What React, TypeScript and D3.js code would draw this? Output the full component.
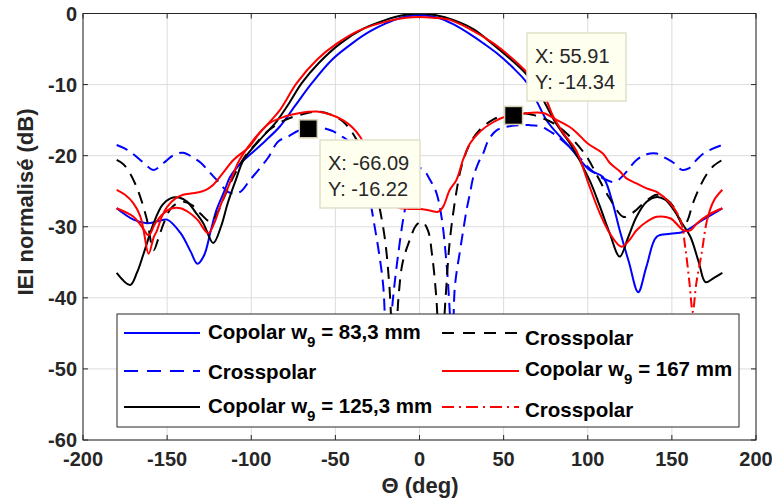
import React from "react";
import * as d3 from "d3";

// ---------- axis ticks ----------
const xTicks = [-200, -150, -100, -50, 0, 50, 100, 150, 200];
const yTicks = [0, -10, -20, -30, -40, -50, -60];

// ---------- series data (theta in deg, level in dB) ----------
// Copolar w9 = 83,3 mm (blue solid)
const blueCoTheta = [-180, -170, -162, -155, -150, -142, -136, -132, -128, -124, -120.6, -116, -112.6, -106, -100, -92, -83, -74, -64, -52, -40, -30, -20, -11, 0, 11, 20, 30, 38, 46, 55, 64, 70, 76, 83.5, 90, 101, 109, 114, 119, 124.5, 130, 135, 141, 149, 157, 168.6, 180];
const blueCoDb = [-27.4, -29, -29.5, -29.2, -29, -30.9, -33.5, -35.2, -34, -30.5, -27.6, -25, -23, -21, -19.7, -18, -15.9, -13, -9.8, -6.5, -4.2, -2.6, -1.4, -0.6, -0.2, -0.6, -1.5, -2.9, -4.2, -5.6, -7.5, -9.8, -12.5, -15.2, -17.3, -19, -22, -23, -26, -30.5, -35, -39.2, -35.5, -31.4, -31, -30.7, -29, -27.4];

// Crosspolar (blue dashed)
const blueXTheta = [-180, -175, -170, -164, -158, -152, -146, -140.5, -135, -130, -124.5, -119, -114, -110, -106, -101, -95, -90, -84, -78, -72, -66, -58, -52, -47, -43, -38, -33, -30, -27, -24, -21.5, -19, -16, -13, -9, -5, -1, 2, 6, 10, 13, 16, 18, 19.5, 21, 24, 26, 28, 30, 32, 35, 38, 41, 46, 55, 65, 72, 79, 88, 96, 101, 105, 110, 116, 121, 129, 135, 141, 146, 151, 156, 160, 165, 170, 180];
const blueXDb = [-18.5, -19, -19.8, -21, -22, -21, -19.9, -19.6, -20.2, -21, -22.4, -23.8, -25.1, -25.3, -25, -23.5, -21.8, -20.3, -18, -17.3, -16.5, -16.22, -16.1, -16.5, -17.2, -17.8, -19.5, -22.5, -25.5, -29.5, -33.8, -38.5, -50, -40.7, -34.5, -28, -24, -21.8, -21.9, -23.3, -25.2, -28.5, -35, -42, -50, -38.5, -33.5, -30.5, -27.6, -25.3, -23, -21, -19.6, -17.8, -16.4, -15.8, -15.7, -15.9, -16.8, -18.5, -20.5, -21.8, -22.6, -23.3, -23.7, -22.8, -20.6, -19.8, -19.7, -20.3, -21, -22, -21.8, -20.5, -19.5, -18.5];

// Copolar w9 = 125,3 mm (black solid)
const blackCoTheta = [-180, -172, -168, -164, -158, -153, -148, -143, -138, -133, -128.5, -122.6, -118, -114, -109, -104.6, -95, -85, -78, -70, -60, -47, -33, -20, -10, 0, 10, 20, 32, 43, 55, 63, 69, 75, 80, 85, 90, 101, 107, 113, 119, 124, 129, 135, 141, 146, 151, 156, 161, 166, 170, 175, 180];
const blackCoDb = [-36.5, -38.2, -36.5, -33.8, -29.5, -27, -26, -25.9, -26.5, -28, -29.5, -32.3, -30, -26.7, -23.3, -20.6, -17.8, -15.2, -12.8, -9.8, -7, -4.2, -2.1, -0.9, -0.25, 0, -0.25, -0.9, -2.2, -4.2, -6.6, -8.4, -10.2, -12.8, -15, -16.8, -18.5, -23.4, -27, -30.9, -34.2, -31.5, -28.6, -26.5, -25.8, -26.2, -27.6, -29.5, -31.4, -35, -37.8, -37.2, -36.5];

// Crosspolar (black dashed)
const blackXTheta = [-180, -176, -172, -168, -165, -162, -158, -155, -152, -148, -144, -140, -135, -130, -124, -120, -116, -110, -104, -98, -90, -80, -70, -60, -52, -45, -38, -32, -26, -21, -18, -15, -12.5, -10, -6, -2, 1.5, 5, 7.5, 10, 12.5, 15.5, 18, 22, 25, 30, 36, 44, 52, 60, 68, 74, 80, 88, 99, 106, 113, 121, 125, 129, 135, 141, 146, 151, 154.5, 157, 159.5, 162.5, 167, 171, 175, 180];
const blackXDb = [-20.6, -21.2, -22.5, -24.5, -26.5, -29, -33.3, -31.5, -29.5, -27.5, -26.7, -26.5, -27, -28.2, -29.3, -28, -25.8, -22.7, -20.2, -18.5, -16.5, -15, -14.2, -13.8, -14.3, -15.3, -17.5, -20.5, -25, -31, -38, -50, -40, -35, -32, -29.8, -29.3, -30.5, -34, -40, -50, -40, -32, -25, -21.5, -18.3, -16.3, -14.9, -14.2, -14, -14.3, -14.8, -15.5, -17, -20, -23, -26, -28.6, -28.3, -27.6, -26.3, -25.5, -26, -27.2, -29, -30, -29, -26.7, -24.2, -22.5, -21.4, -20.6];

// Copolar w9 = 167 mm (red solid)
const redCoTheta = [-180, -170, -165, -161, -157, -152, -147, -142, -137, -132, -125.6, -122, -118.6, -113, -107, -97, -90, -83, -73, -61, -49, -35, -15.6, -8, 0, 8, 18, 30, 44, 55, 64, 71, 76, 79.5, 86, 93, 101, 107, 113, 120, 125, 129, 135, 141, 149, 157, 161, 165, 172, 180];
const redCoDb = [-27.4, -28.6, -30, -31.2, -29.5, -28.1, -27.4, -27.4, -28, -29, -30.9, -29.5, -27.2, -24, -20.6, -17.3, -15.5, -13.6, -9.8, -6.5, -4.2, -2.3, -0.9, -0.6, -0.5, -0.6, -0.9, -2.2, -4.2, -6.3, -8.3, -10, -12.5, -14.5, -17, -19.2, -24.3, -28, -30.9, -32.8, -31.8, -30.5, -29.3, -28.6, -28.8, -30.5, -30.5, -29.5, -28.3, -27.4];

// Crosspolar (red dash-dot)
const redXTheta = [-180, -175, -170, -166, -164, -161, -158, -156, -153, -150, -145, -140.5, -135, -130.5, -126, -122.6, -117, -110.6, -101, -95, -89, -80, -71, -61, -53, -45.5, -40, -35.4, -30, -25, -19, -13.4, -6, 0, 6, 11, 14, 18, 22, 26, 30, 36, 43.7, 50, 56, 65, 73.5, 81.7, 89.5, 93.6, 100, 109, 113, 119, 123, 129, 135, 141, 149, 155, 158, 160.5, 162.4, 164.5, 167.7, 171, 175, 180];
const redXDb = [-24.8, -25.5, -26.7, -28.5, -30.5, -33.8, -31.5, -30.5, -28.5, -27.2, -26, -25.5, -25.3, -25.1, -24.7, -24.1, -22.5, -20.6, -18.7, -16.8, -15.4, -14.5, -14, -13.8, -14.2, -15, -16, -17.3, -19.8, -22.5, -25.5, -27.2, -27.5, -27.5, -27.7, -27.9, -27.2, -24.8, -23.4, -20.5, -18.3, -16.6, -15.3, -14.6, -14.3, -14, -14, -15, -16, -16.8, -18.3, -19.7, -21, -22.2, -23.2, -23.9, -24.6, -25.1, -26.7, -29, -33, -38, -42, -38, -33.7, -29, -26.3, -24.8];

const legendLabels = [
  ["Copolar w", "9", " = 83,3 mm"],
  ["Crosspolar", "", ""],
  ["Copolar w", "9", " = 125,3 mm"],
  ["Crosspolar", "", ""],
  ["Copolar w", "9", " = 167 mm"],
  ["Crosspolar", "", ""],
];

const tipX = [-66.09, 55.91];
const tipY = [-16.22, -14.34];

const FONT = "'Liberation Sans', Arial, Helvetica, sans-serif";

export default function App() {
  const W = 772, H = 499;
  const x = d3.scaleLinear().domain([-200, 200]).range([83, 756]);
  const y = d3.scaleLinear().domain([-60, 0]).range([440, 13.5]);

  const mk = (th: number[], db: number[]) => {
    const pts: [number, number][] = th.map((t, i) => [x(t), y(db[i])]);
    return d3.line().curve(d3.curveCatmullRom.alpha(0.5))(pts) || "";
  };

  const series = [
    { d: mk(blueCoTheta, blueCoDb), color: "#0000ff", dash: undefined as string | undefined },
    { d: mk(blueXTheta, blueXDb), color: "#0000ff", dash: "12,7" },
    { d: mk(blackCoTheta, blackCoDb), color: "#000000", dash: undefined },
    { d: mk(blackXTheta, blackXDb), color: "#000000", dash: "12,8" },
    { d: mk(redCoTheta, redCoDb), color: "#ff0000", dash: undefined },
  ];
  const redX = mk(redXTheta, redXDb);
  const dipL = x(154), dipR = x(171);

  const legendItems = [
    { color: "#0000ff", dash: undefined as string | undefined },
    { color: "#0000ff", dash: "14,9" },
    { color: "#000000", dash: undefined },
    { color: "#000000", dash: "12,9" },
    { color: "#ff0000", dash: undefined },
    { color: "#ff0000", dash: "12,5,2,5" },
  ];
  // legend layout
  const col1 = { lx0: 124, lx1: 200, tx: 208 };
  const col2 = { lx0: 442, lx1: 519, tx: 525 };
  const lineYs = [333, 371, 407, 333, 371, 407];
  const textYs = [339, 379, 413, 345, 376, 417];

  const tipBoxes = [
    { x: 320, y: 140, w: 100, h: 68 },
    { x: 527, y: 33, w: 99, h: 68 },
  ];

  return (
    <svg width={W} height={H} style={{ position: "absolute", left: 0, top: 0, background: "#fff" }}>
      <defs>
        <clipPath id="plotclip">
          <rect x={83} y={13.5} width={673} height={426.5} />
        </clipPath>
        <clipPath id="outdip">
          <rect x={0} y={0} width={dipL} height={H} />
          <rect x={dipR} y={0} width={W - dipR} height={H} />
        </clipPath>
        <clipPath id="indip">
          <rect x={dipL} y={0} width={dipR - dipL} height={H} />
        </clipPath>
      </defs>
      <rect x={0} y={0} width={W} height={H} fill="#fff" />
      {/* grid */}
      {xTicks.map((t) => (
        <line key={"gx" + t} x1={x(t)} x2={x(t)} y1={y(-60)} y2={y(0)} stroke="#dcdcdc" strokeWidth={1} />
      ))}
      {yTicks.map((t) => (
        <line key={"gy" + t} x1={x(-200)} x2={x(200)} y1={y(t)} y2={y(t)} stroke="#dcdcdc" strokeWidth={1} />
      ))}
      {/* tick marks */}
      {xTicks.map((t) => (
        <g key={"tx" + t}>
          <line x1={x(t)} x2={x(t)} y1={y(-60)} y2={y(-60) - 5} stroke="#262626" />
          <line x1={x(t)} x2={x(t)} y1={y(0)} y2={y(0) + 5} stroke="#262626" />
        </g>
      ))}
      {yTicks.map((t) => (
        <g key={"ty" + t}>
          <line x1={x(-200)} x2={x(-200) + 5} y1={y(t)} y2={y(t)} stroke="#262626" />
          <line x1={x(200)} x2={x(200) - 5} y1={y(t)} y2={y(t)} stroke="#262626" />
        </g>
      ))}
      {/* curves */}
      <g clipPath="url(#plotclip)" fill="none" strokeWidth={2} strokeLinejoin="round">
        {series.map((s, i) => (
          <path key={"s" + i} d={s.d} stroke={s.color} strokeDasharray={s.dash} />
        ))}
        <path d={redX} stroke="#ff0000" clipPath="url(#outdip)" />
        <path d={redX} stroke="#ff0000" strokeDasharray="10,4,2,4" clipPath="url(#indip)" />
      </g>
      {/* axes box */}
      <rect x={x(-200)} y={y(0)} width={x(200) - x(-200)} height={y(-60) - y(0)} fill="none" stroke="#262626" strokeWidth={1} />
      {/* tick labels */}
      {xTicks.map((t) => (
        <text key={"lx" + t} x={x(t)} y={466} textAnchor="middle" fontFamily={FONT} fontWeight="bold" fontSize={20} fill="#262626">
          {t}
        </text>
      ))}
      {yTicks.map((t) => (
        <text key={"ly" + t} x={77} y={y(t) + 7} textAnchor="end" fontFamily={FONT} fontWeight="bold" fontSize={20} fill="#262626">
          {t}
        </text>
      ))}
      {/* axis labels */}
      <text x={420} y={493} textAnchor="middle" fontFamily={FONT} fontWeight="bold" fontSize={22} fill="#262626">
        Θ (deg)
      </text>
      <text transform="translate(33,202) rotate(-90)" textAnchor="middle" fontFamily={FONT} fontWeight="bold" fontSize={22} fill="#262626">
        IEI normalisé (dB)
      </text>
      {/* legend */}
      <rect x={117} y={314} width={622} height={113} fill="#fff" stroke="#262626" strokeWidth={1} />
      {legendItems.map((it, i) => {
        const c = i < 3 ? col1 : col2;
        const lab = legendLabels[i];
        return (
          <g key={"lg" + i}>
            <line x1={c.lx0} x2={c.lx1} y1={lineYs[i]} y2={lineYs[i]} stroke={it.color} strokeWidth={2} strokeDasharray={it.dash} />
            <text x={c.tx} y={textYs[i]} fontFamily={FONT} fontWeight="bold" fontSize={20.5} fill="#000">
              {lab[0]}
              {lab[1] ? (
                <>
                  <tspan dy={8} fontSize={15}>{lab[1]}</tspan>
                  <tspan dy={-8}>{lab[2]}</tspan>
                </>
              ) : null}
            </text>
          </g>
        );
      })}
      {/* data tips */}
      {tipX.map((tx, i) => (
        <rect key={"mk" + i} x={x(tx) - 9} y={y(tipY[i]) - 9} width={18} height={18} fill="#000" stroke="#d9d4b4" strokeWidth={1.5} />
      ))}
      {tipBoxes.map((b, i) => (
        <g key={"tb" + i}>
          <rect x={b.x} y={b.y} width={b.w} height={b.h} fill="#fffff0" stroke="#e2dfc8" strokeWidth={1.5} />
          <text x={b.x + 8} y={b.y + 30} fontFamily={FONT} fontSize={20} fill="#262626">
            {"X: " + tipX[i].toFixed(2)}
          </text>
          <text x={b.x + 8} y={b.y + 56} fontFamily={FONT} fontSize={20} fill="#262626">
            {"Y: " + tipY[i].toFixed(2)}
          </text>
        </g>
      ))}
    </svg>
  );
}
